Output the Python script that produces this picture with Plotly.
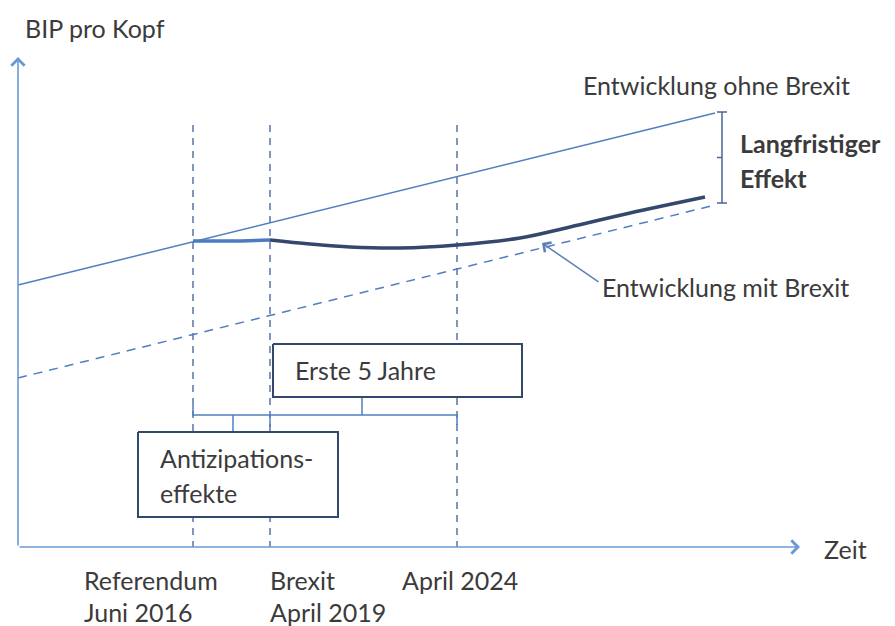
import plotly.graph_objects as go

# schematic coordinates (pixel-like units, y grows downward)
achse_x0, achse_y0 = 18, 547
achse_x_ende, achse_y_top = 800, 57

# time markers: Referendum, Brexit, April 2024
marker_x = [193, 270, 457]
marker_y = [125, 547]

# trend without Brexit and long-run trend with Brexit
ohne_x = [18, 715]
ohne_y = [285, 113]
lang_x = [18, 715]
lang_y = [378, 205]

# development with Brexit
mit_x_antiz = [193, 230, 270]
mit_y_antiz = [241, 241, 240]
mit_x = [270, 310, 350, 400, 457, 520, 570, 630, 705]
mit_y = [240, 244, 247, 248, 245, 238, 227, 213, 197]

# long-run effect bracket
effekt_x = 722
effekt_y = [112, 203]

# period bracket
klammer_y = 415
klammer_x = [193, 457]

text_col = "#3b3b3b"
blue = "#4f7fc0"
navy = "#34486e"
dash_col = "#5a74a8"
font = "Lato"

fig = go.Figure()


def line(x, y, color, width=1.5, dash="solid", shape="linear"):
    fig.add_trace(go.Scatter(x=x, y=y, mode="lines", hoverinfo="skip",
        line=dict(color=color, width=width, dash=dash, shape=shape)))


# vertical dashed lines
for mx in marker_x:
    line([mx, mx], marker_y, dash_col, 1.5, "7px,6px")

line(ohne_x, ohne_y, blue, 1.5)
line(lang_x, lang_y, blue, 1.5, "9px,7px")
line(mit_x_antiz, mit_y_antiz, "#4a7cc0", 3.5, shape="spline")
line(mit_x, mit_y, navy, 3.5, shape="spline")

# bracket for long-run effect
line([effekt_x, effekt_x], effekt_y, "#4a6596", 1.5)
line([effekt_x - 5, effekt_x + 5], [effekt_y[0]] * 2, "#4a6596", 1.5)
line([effekt_x - 5, effekt_x + 5], [effekt_y[1]] * 2, "#4a6596", 1.5)
line([effekt_x - 5, effekt_x], [sum(effekt_y) / 2] * 2, "#4a6596", 1.5)

# period bracket
line([klammer_x[0], klammer_x[0], klammer_x[1], klammer_x[1]],
     [klammer_y - 10, klammer_y, klammer_y, klammer_y + 10], blue, 1.5)
line([marker_x[1], marker_x[1]], [klammer_y, klammer_y + 12], blue, 1.5)
line([233, 233], [klammer_y, 432], blue, 1.5)
line([362, 362], [klammer_y, 397], blue, 1.5)

# boxes
boxes = [([273, 522], [344, 397]), ([138, 338], [432, 517])]
for bx, by in boxes:
    fig.add_trace(go.Scatter(x=[bx[0], bx[1], bx[1], bx[0], bx[0]],
        y=[by[0], by[0], by[1], by[1], by[0]], mode="lines", fill="toself",
        fillcolor="white", hoverinfo="skip", line=dict(color=navy, width=2)))

annots = []
# axes with open arrowheads
annots.append(dict(x=achse_x0, y=achse_y_top, ax=achse_x0, ay=achse_y0,
    xref="x", yref="y", axref="x", ayref="y", showarrow=True, arrowhead=4,
    arrowsize=1.6, arrowwidth=1.6, arrowcolor="#6a9ad6", text=""))
annots.append(dict(x=achse_x_ende, y=achse_y0, ax=achse_x0, ay=achse_y0,
    xref="x", yref="y", axref="x", ayref="y", showarrow=True, arrowhead=4,
    arrowsize=1.6, arrowwidth=1.6, arrowcolor="#6a9ad6", text=""))
# pointer to development with Brexit
annots.append(dict(x=542, y=243, ax=600, ay=283, xref="x", yref="y",
    axref="x", ayref="y", showarrow=True, arrowhead=4, arrowsize=1.5,
    arrowwidth=1.5, arrowcolor="#5b7fb8", text=""))

labels = [
    ("BIP pro Kopf", 23, 28, False),
    ("Entwicklung ohne Brexit", 581, 85, False),
    ("Langfristiger", 738, 143, True),
    ("Effekt", 738, 178, True),
    ("Entwicklung mit Brexit", 600, 287, False),
    ("Erste 5 Jahre", 293, 370, False),
    ("Antizipations-", 158, 458, False),
    ("effekte", 158, 493, False),
    ("Zeit", 822, 549, False),
    ("Referendum", 82, 580, False),
    ("Juni 2016", 82, 612, False),
    ("Brexit", 268, 580, False),
    ("April 2019", 268, 612, False),
    ("April 2024", 400, 580, False),
]
for t, x, y, b in labels:
    annots.append(dict(x=x, y=y, xref="x", yref="y", text=f"<b>{t}</b>" if b else t,
        showarrow=False, xanchor="left", yanchor="middle",
        font=dict(family=font, size=25, color=text_col)))

fig.update_layout(width=895, height=626, margin=dict(l=0, r=0, t=0, b=0),
    paper_bgcolor="white", plot_bgcolor="white", showlegend=False,
    xaxis=dict(range=[0, 895], visible=False, fixedrange=True),
    yaxis=dict(range=[626, 0], visible=False, fixedrange=True),
    annotations=annots)

fig.write_html("out.html", config={"displayModeBar": False},
    post_script="document.body.style.margin='0';document.body.style.overflow='hidden';")
